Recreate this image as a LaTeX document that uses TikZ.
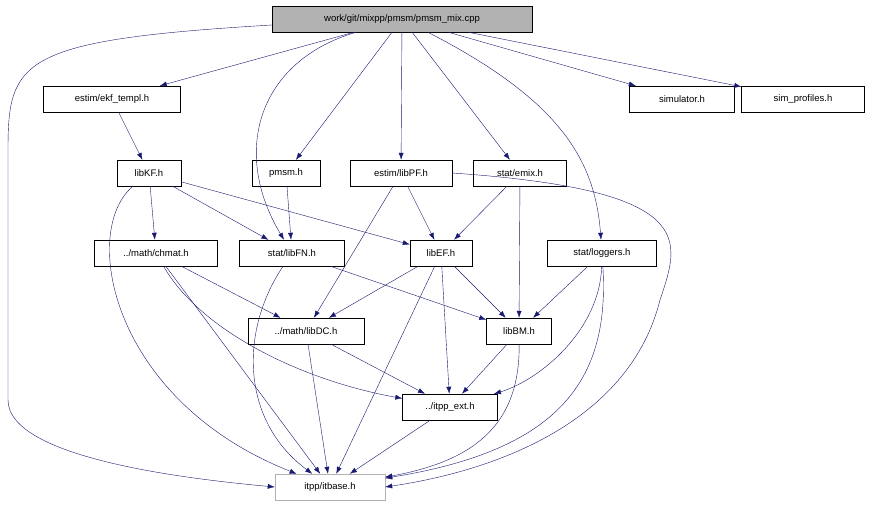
\documentclass[tikz,border=0pt]{standalone}
\usepackage{fontspec}
\setmainfont{Liberation Sans}
\usetikzlibrary{arrows.meta}
\begin{document}
\begin{tikzpicture}[x=1pt,y=-1pt,
    file/.style={draw, fill=white, font=\fontsize{9.5}{11}\selectfont, minimum height=26pt, inner sep=0pt},
    dep/.style={draw={rgb,255:red,25;green,25;blue,112}, -{Latex[length=7pt,width=5pt]}}]
    \useasboundingbox (0,0) rectangle (872,504);

    % files
    \node[file, fill=gray!60, minimum width=260pt] (mix) at (402,19) {work/git/mixpp/pmsm/pmsm\_mix.cpp};
    \node[file, minimum width=137pt] (ekf) at (112,99) {estim/ekf\_templ.h};
    \node[file, minimum width=105pt] (sim) at (682,99) {simulator.h};
    \node[file, minimum width=123pt] (prof) at (803,99) {sim\_profiles.h};
    \node[file, minimum width=64pt] (kf) at (149,173) {libKF.h};
    \node[file, minimum width=68pt] (pmsm) at (286,173) {pmsm.h};
    \node[file, minimum width=102pt] (pf) at (401,173) {estim/libPF.h};
    \node[file, minimum width=93pt] (emix) at (520,173) {stat/emix.h};
    \node[file, minimum width=123pt] (chmat) at (156,253) {../math/chmat.h};
    \node[file, minimum width=105pt] (fn) at (292,253) {stat/libFN.h};
    \node[file, minimum width=62pt] (ef) at (441,253) {libEF.h};
    \node[file, minimum width=109pt] (log) at (602,253) {stat/loggers.h};
    \node[file, minimum width=116pt] (dc) at (306,331) {../math/libDC.h};
    \node[file, minimum width=65pt] (bm) at (519,331) {libBM.h};
    \node[file, minimum width=95pt] (ext) at (450,407) {../itpp\_ext.h};
    \node[file, draw=gray!60, minimum width=110pt] (base) at (330,487) {itpp/itbase.h};

    % dependencies
    \draw[dep] (mix.west) ++(0,6) .. controls (20,40) and (8,60) .. (8,150) -- (8,400) .. controls (8,460) and (200,480) .. (base.west);
    \draw[dep] (mix) -- (ekf);
    \draw[dep] (mix) -- (sim);
    \draw[dep] (mix) -- (prof);
    \draw[dep] (mix) -- (pmsm);
    \draw[dep] (mix) -- (pf);
    \draw[dep] (mix) -- (emix);
    \draw[dep] (mix) .. controls (560,100) and (595,160) .. (log);
    \draw[dep] (mix) .. controls (260,60) and (230,150) .. (fn);
    \draw[dep] (ekf) -- (kf);
    \draw[dep] (kf) -- (chmat);
    \draw[dep] (kf) -- (fn);
    \draw[dep] (kf) -- (ef);
    \draw[dep] (kf) .. controls (80,230) and (110,400) .. (base);
    \draw[dep] (pmsm) -- (fn);
    \draw[dep] (pf) -- (ef);
    \draw[dep] (pf) -- (dc);
    \draw[dep] (pf.east) .. controls (700,190) and (680,240) .. (660,300) .. controls (630,420) and (500,470) .. (base.east);
    \draw[dep] (emix) -- (ef);
    \draw[dep] (emix) -- (bm);
    \draw[dep] (chmat) -- (dc);
    \draw[dep] (chmat) .. controls (200,330) and (300,380) .. (ext);
    \draw[dep] (chmat) -- (base);
    \draw[dep] (fn) -- (bm);
    \draw[dep] (fn) .. controls (240,330) and (240,420) .. (base);
    \draw[dep] (ef) -- (dc);
    \draw[dep] (ef) -- (bm);
    \draw[dep] (ef) -- (ext);
    \draw[dep] (ef) -- (base);
    \draw[dep] (log) -- (bm);
    \draw[dep] (log) .. controls (600,330) and (540,380) .. (ext);
    \draw[dep] (log) .. controls (610,380) and (560,450) .. (base);
    \draw[dep] (dc) -- (ext);
    \draw[dep] (dc) -- (base);
    \draw[dep] (bm) -- (ext);
    \draw[dep] (bm) .. controls (520,420) and (480,460) .. (base);
    \draw[dep] (ext) -- (base);
\end{tikzpicture}
\end{document}
